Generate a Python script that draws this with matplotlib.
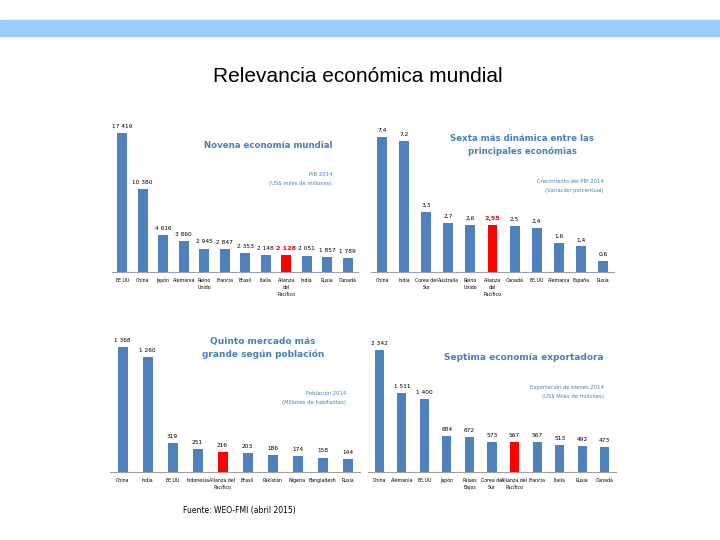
import matplotlib.pyplot as plt
from matplotlib.patches import Rectangle

plt.rcParams['font.family'] = ['Liberation Sans Narrow', 'DejaVu Sans']

# PIB 2014 (US$ miles de millones)
pib_paises = ['EE.UU', 'China', 'Japón', 'Alemania', 'Reino\nUnido', 'Francia', 'Brasil',
              'Italia', 'Alianza\ndel\nPacífico', 'India', 'Rusia', 'Canadá']
pib_valores = [17419, 10380, 4616, 3860, 2945, 2847, 2353, 2148, 2128, 2051, 1857, 1789]

# Crecimiento del PBI 2014 (%)
crec_paises = ['China', 'India', 'Corea del\nSur', 'Australia', 'Reino\nUnido', 'Alianza\ndel\nPacífico',
               'Canadá', 'EE.UU', 'Alemania', 'España', 'Rusia']
crec_valores = [7.4, 7.2, 3.3, 2.7, 2.6, 2.55, 2.5, 2.4, 1.6, 1.4, 0.6]

# Población 2014 (millones)
pob_paises = ['China', 'India', 'EE.UU', 'Indonesia', 'Alianza del\nPacífico', 'Brasil',
              'Pakistán', 'Nigeria', 'Bangladesh', 'Rusia']
pob_valores = [1368, 1260, 319, 251, 216, 203, 186, 174, 158, 144]

# Exportación de bienes 2014 (US$ miles de millones)
exp_paises = ['China', 'Alemania', 'EE.UU', 'Japón', 'Países\nBajos', 'Corea del\nSur',
              'Alianza del\nPacífico', 'Francia', 'Italia', 'Rusia', 'Canadá']
exp_valores = [2342, 1511, 1400, 684, 672, 573, 567, 567, 513, 492, 473]

BLUE = '#4f81bd'
RED = '#ff0000'
TITLE_BLUE = '#4a7ebb'

W, H = 720, 540
fig = plt.figure(figsize=(7.2, 5.4), dpi=100)


def px_axes(x0, y0, x1, y1):
    return fig.add_axes([x0 / W, 1 - y1 / H, (x1 - x0) / W, (y1 - y0) / H])


def ftext(x, y, s, **kw):
    fig.text(x / W, 1 - y / H, s, **kw)


def bar_panel(ax, names, values, red_idx, ymax, width, fmt, red_label=False):
    colors = [RED if i == red_idx else BLUE for i in range(len(values))]
    ax.bar(range(len(values)), values, width=width, color=colors, zorder=2)
    ax.set_xlim(-0.5, len(values) - 0.5)
    ax.set_ylim(0, ymax)
    for s in ['top', 'left', 'right']:
        ax.spines[s].set_visible(False)
    ax.spines['bottom'].set_color('#a0a0a0')
    ax.spines['bottom'].set_linewidth(0.8)
    ax.set_yticks([])
    ax.set_xticks(range(len(values)))
    ax.set_xticklabels(names, fontsize=3.4, linespacing=1.6, va='top')
    ax.tick_params(axis='x', length=0, pad=4)
    for i, v in enumerate(values):
        is_red = red_label and i == red_idx
        ax.annotate(fmt(v), (i, v), xytext=(0, 3), textcoords='offset points',
                    ha='center', va='bottom', fontsize=4.2 if not is_red else 4.6,
                    color=RED if is_red else 'black',
                    fontweight='bold' if is_red else 'normal')


def miles(v):
    return f'{v:,}'.replace(',', ' ')


def coma(v):
    return f'{v}'.replace('.', ',')


# banda superior
fig.patches.append(Rectangle((0, 1 - 36 / H), 1, 16 / H, transform=fig.transFigure,
                             color='#99ccff', zorder=0))
ftext(358, 76, 'Relevancia económica mundial', ha='center', va='center',
      fontsize=15, family='Liberation Sans')

ax1 = px_axes(112, 120, 358, 272)
bar_panel(ax1, pib_paises, pib_valores, 8, 19050, 0.5, miles, red_label=True)
ftext(268, 146, 'Novena economía mundial', ha='center', va='center', fontsize=6.2,
      color=TITLE_BLUE, fontweight='bold')
ftext(332, 179, 'PIB 2014\n(US$ miles de millones)', ha='right', va='center',
      fontsize=3.8, color=TITLE_BLUE, linespacing=1.9)

ax2 = px_axes(371, 120, 614, 272)
bar_panel(ax2, crec_paises, crec_valores, 5, 8.33, 0.45, coma, red_label=True)
ftext(522, 145, 'Sexta más dinámica entre las\nprincipales económias', ha='center',
      va='center', fontsize=6.2, color=TITLE_BLUE, fontweight='bold', linespacing=1.5)
ftext(604, 186, 'Crecimiento del PBI 2014\n(Variación porcentual)', ha='right', va='center',
      fontsize=3.8, color=TITLE_BLUE, linespacing=1.9)

ax3 = px_axes(110, 335, 360, 472)
bar_panel(ax3, pob_paises, pob_valores, 4, 1499, 0.4, miles)
ftext(263, 348, 'Quinto mercado más\ngrande según población', ha='center', va='center',
      fontsize=6.5, color=TITLE_BLUE, fontweight='bold', linespacing=1.5)
ftext(346, 398, 'Población 2014\n(Millones de habitantes)', ha='right', va='center',
      fontsize=3.8, color=TITLE_BLUE, linespacing=1.9)

ax4 = px_axes(368, 335, 616, 472)
bar_panel(ax4, exp_paises, exp_valores, 6, 2630, 0.4, miles)
ftext(524, 357, 'Septima economía exportadora', ha='center', va='center',
      fontsize=6.5, color=TITLE_BLUE, fontweight='bold')
ftext(604, 392, 'Exportación de bienes 2014\n(US$ Miles de millones)', ha='right', va='center',
      fontsize=3.8, color=TITLE_BLUE, linespacing=1.9)

ftext(183, 510, 'Fuente: WEO-FMI (abril 2015)', ha='left', va='center', fontsize=5.5)

fig.savefig('out.png', dpi=100)
